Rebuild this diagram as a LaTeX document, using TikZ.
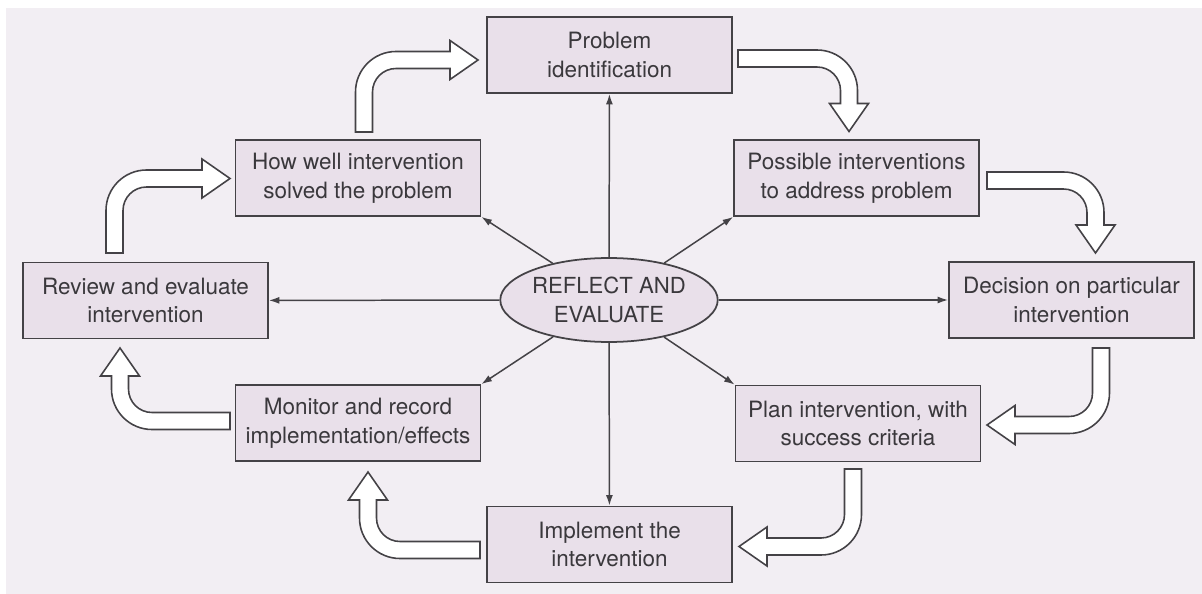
\documentclass[tikz,border=0pt]{standalone}
\usepackage{fontspec}
\setmainfont{TeX Gyre Heros}
\usetikzlibrary{shapes.geometric,arrows.meta}

\definecolor{paper}{RGB}{242,238,243}
\definecolor{boxfill}{RGB}{233,224,234}
\definecolor{ink}{RGB}{68,66,70}
\definecolor{txt}{RGB}{58,56,60}

\tikzset{
  stage/.style={draw=ink, line width=1pt, fill=boxfill, minimum width=4.9cm, minimum height=1.52cm,
    inner sep=0pt, align=center, text=txt, font=\fontsize{12.8}{16.4}\selectfont},
  hub/.style={ellipse, draw=ink, line width=1pt, fill=boxfill, minimum width=3.76cm, minimum height=1.68cm,
    inner sep=0pt, align=center, text=txt, font=\fontsize{12.6}{16.4}\selectfont},
  spoke/.style={ink, line width=0.85pt, -{Latex[length=6pt,width=4pt]}},
  fat/.style={draw=ink, fill=white, line width=0.9pt},
  % bent block arrow: first leg along y, then along x, tip at (#2,#1)
  pics/bend/.style 2 args={code={
    \draw[fat] (-8.5,0) -- (-8.5,#1-32) arc[start angle=180,end angle=90,radius=40.5]
      -- (#2-28,#1+8.5) -- (#2-28,#1+19.5) -- (#2,#1) -- (#2-28,#1-19.5) -- (#2-28,#1-8.5)
      -- (32,#1-8.5) arc[start angle=90,end angle=180,radius=23.5] -- (8.5,0) -- cycle;
  }}
}

\begin{document}
\begin{tikzpicture}[x=0.02cm,y=-0.02cm]
  \useasboundingbox (0,0) rectangle (1202,594);
  \fill[white] (0,0) rectangle (1202,594);
  \fill[paper] (6,8) rectangle (1202,594);

  \node[stage] (prob) at (609.5,55) {Problem\\identification};
  \node[stage] (how) at (358,178) {How well intervention\\solved the problem};
  \node[stage] (poss) at (856.5,178) {Possible interventions\\to address problem};
  \node[stage] (rev) at (145.5,300.5) {Review and evaluate\\intervention};
  \node[stage] (dec) at (1071.5,300) {Decision on particular\\intervention};
  \node[stage] (mon) at (358,423) {Monitor and record\\implementation/effects};
  \node[stage] (plan) at (858,423.5) {Plan intervention, with\\success criteria};
  \node[stage] (impl) at (609.5,544.5) {Implement the\\intervention};

  \node[hub] (refl) at (609,300) {REFLECT AND\\EVALUATE};

  \draw[spoke] (refl) -- (prob);
  \draw[spoke] (refl) -- (impl);
  \draw[spoke] (refl) -- (rev);
  \draw[spoke] (refl) -- (dec);
  \draw[spoke] (refl) -- (how.south east);
  \draw[spoke] (refl) -- (poss.south west);
  \draw[spoke] (refl) -- (mon.north east);
  \draw[spoke] (refl) -- (plan.north west);

  % the cycle, clockwise
  \pic[yscale=-1] at (364,132) {bend={72}{114}};
  \pic[cm={0,-1,-1,0,(0,0)}] at (738,58.5) {bend={111}{73}};
  \pic[cm={0,-1,-1,0,(0,0)}] at (987,180.5) {bend={108.5}{72.5}};
  \pic[xscale=-1] at (1101,348) {bend={77}{114}};
  \pic[xscale=-1] at (853,469) {bend={77.5}{114}};
  \pic[cm={0,1,1,0,(0,0)}] at (480,550) {bend={112}{78}};
  \pic[cm={0,1,1,0,(0,0)}] at (230,421) {bend={110}{73}};
  \pic[yscale=-1] at (114.5,253) {bend={74.5}{115.5}};
\end{tikzpicture}
\end{document}
